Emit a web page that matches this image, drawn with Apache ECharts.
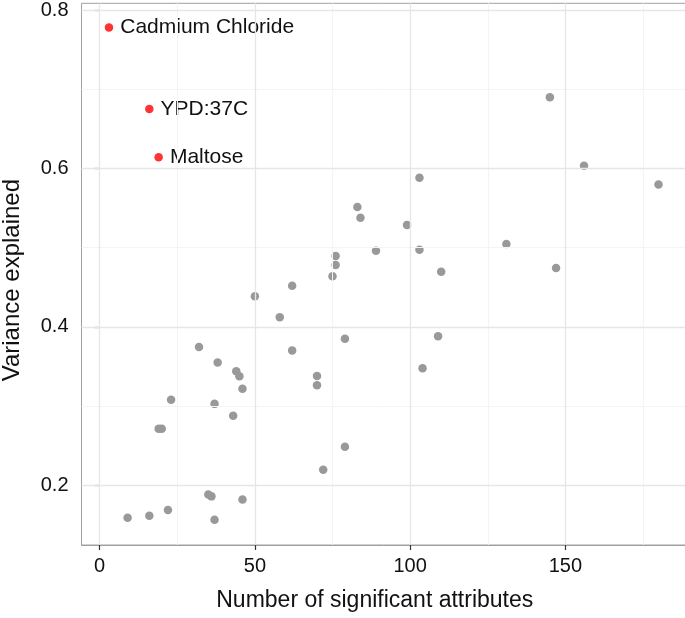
<!DOCTYPE html>
<html>
<head>
<meta charset="utf-8">
<script src="https://cdn.jsdelivr.net/npm/echarts@6/dist/echarts.min.js"></script>
<style>html,body{margin:0;padding:0;background:#fff;}#c{width:685px;height:618px;}</style>
</head>
<body>
<div id="c"></div>
<script>
// Highlighted conditions
var highlightNames = ['Cadmium Chloride', 'YPD:37C', 'Maltose'];
var highlightX = [3, 16, 19];
var highlightY = [0.778, 0.675, 0.614];

// Other conditions
var grayX = [9, 16, 22, 35, 36, 37, 46, 72, 79, 19, 20, 43, 37, 23, 46, 45, 44, 38, 32, 70, 70, 62, 79, 104, 109, 58, 50, 62, 75, 76, 76, 110, 147, 89, 103, 131, 99, 84, 83, 103, 180, 156, 145];
var grayY = [0.159, 0.1615, 0.1686, 0.1884, 0.1859, 0.1565, 0.1821, 0.2195, 0.2485, 0.2712, 0.2712, 0.2876, 0.3027, 0.3078, 0.3217, 0.3376, 0.3439, 0.3549, 0.3746, 0.338, 0.3263, 0.370, 0.385, 0.3477, 0.388, 0.412, 0.4385, 0.452, 0.4637, 0.478, 0.4894, 0.4696, 0.4743, 0.4961, 0.4973, 0.5045, 0.5285, 0.5377, 0.5512, 0.5881, 0.5797, 0.6033, 0.690];

// Axis ticks
var xTicks = [0, 50, 100, 150];
var xMinor = [25, 75, 125, 175];
var yTicks = [0.2, 0.4, 0.6, 0.8];
var yMinor = [0.3, 0.5, 0.7];

var FONT = 'Liberation Sans, Arial, Helvetica, sans-serif';

var grayData = grayX.map(function (x, i) { return [x, grayY[i]]; });
var hiData = highlightX.map(function (x, i) { return { name: highlightNames[i], value: [x, highlightY[i]] }; });

var gridLines = [];
xMinor.forEach(function (v) { gridLines.push({ xAxis: v, lineStyle: { color: '#f4f4f4', width: 1, type: 'solid' } }); });
yMinor.forEach(function (v) { gridLines.push({ yAxis: v, lineStyle: { color: '#f4f4f4', width: 1, type: 'solid' } }); });
xTicks.forEach(function (v) { gridLines.push({ xAxis: v, lineStyle: { color: '#e6e6e6', width: 1.3, type: 'solid' } }); });
yTicks.forEach(function (v) { gridLines.push({ yAxis: v, lineStyle: { color: '#e6e6e6', width: 1.3, type: 'solid' } }); });

var chart = echarts.init(document.getElementById('c'), null, { renderer: 'canvas' });
chart.setOption({
  animation: false,
  backgroundColor: '#ffffff',
  grid: { left: 81.5, top: 3.3, right: -1, bottom: 73, outerBoundsMode: 'none', containLabel: false,
    show: true, borderColor: '#a0a0a0', borderWidth: 1, backgroundColor: 'transparent' },
  xAxis: {
    type: 'value', min: -5.85, max: 188.85,
    axisLine: { show: true, lineStyle: { color: '#a0a0a0', width: 1 } },
    axisTick: { show: true, inside: false, interval: 0, customValues: xTicks, length: 5, lineStyle: { color: '#333333', width: 1.2 } },
    axisLabel: { customValues: xTicks, interval: 0, fontSize: 20, color: '#111', fontFamily: FONT, margin: 11 },
    splitLine: { show: false },
    name: 'Number of significant attributes', nameLocation: 'middle', nameGap: 44,
    nameTextStyle: { fontSize: 23, color: '#111', fontFamily: FONT, padding: [0, 18, 0, 0] }
  },
  yAxis: {
    type: 'value', min: 0.1245, max: 0.8085,
    axisLine: { show: true, lineStyle: { color: '#a0a0a0', width: 1 } },
    axisTick: { show: true, inside: false, interval: 0, customValues: yTicks, length: 5, lineStyle: { color: '#333333', width: 1.2 } },
    axisLabel: { customValues: yTicks, interval: 0, fontSize: 20, color: '#111', fontFamily: FONT, margin: 13,
      formatter: function (v) { return v.toFixed(1); } },
    splitLine: { show: false },
    name: 'Variance explained', nameLocation: 'middle', nameGap: 57, nameRotate: 90,
    nameTextStyle: { fontSize: 24, color: '#111', fontFamily: FONT, padding: [0, 12, 0, 0] }
  },
  series: [
    {
      type: 'scatter', data: [], z: 1, silent: true,
      markLine: { silent: true, symbol: ['none', 'none'], label: { show: false }, animation: false, data: gridLines }
    },
    {
      type: 'scatter', data: grayData, symbolSize: 8.5, z: 3,
      itemStyle: { color: '#999999', opacity: 1 }
    },
    {
      type: 'scatter', data: hiData, symbolSize: 8.5, z: 4,
      itemStyle: { color: '#ff3333', opacity: 1 },
      label: { show: true, position: 'right', distance: 7, formatter: '{b}', fontSize: 21, color: '#111', fontFamily: FONT }
    }
  ]
});
</script>
</body>
</html>
